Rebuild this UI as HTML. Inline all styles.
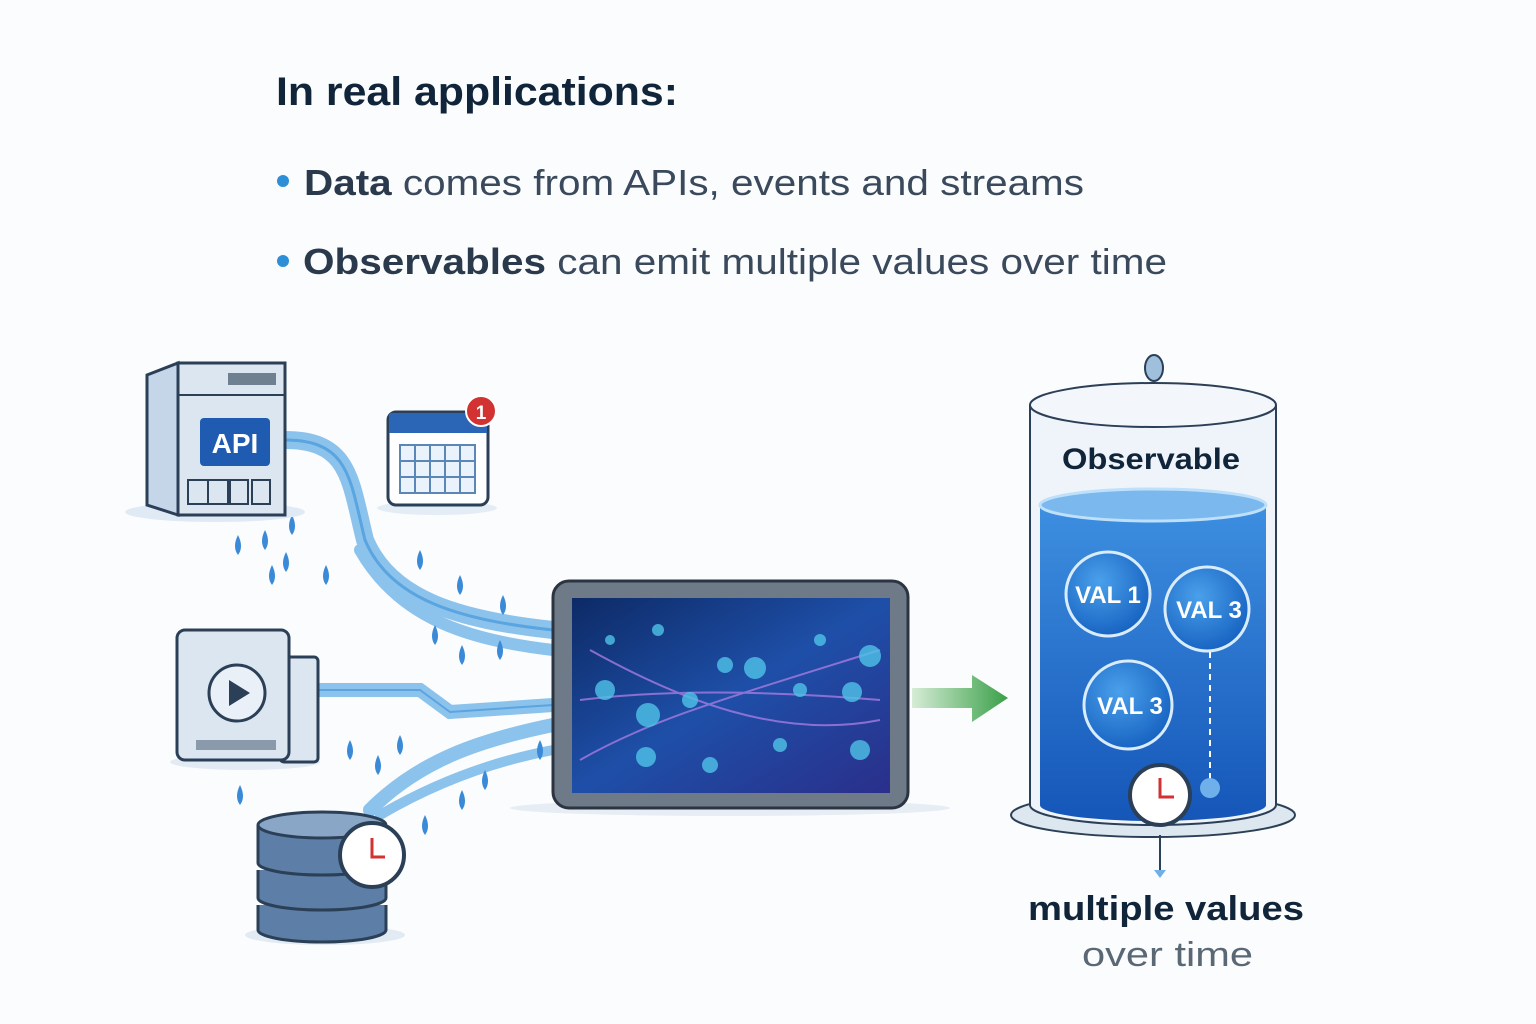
<!DOCTYPE html>
<html><head><meta charset="utf-8"><style>
html,body{margin:0;padding:0;background:#fbfcfd;}
svg{display:block}
</style></head><body>
<svg width="1536" height="1024" viewBox="0 0 1536 1024" xmlns="http://www.w3.org/2000/svg" font-family="'Liberation Sans','DejaVu Sans',sans-serif">
<defs>
<linearGradient id="scr" x1="0" y1="0" x2="1" y2="1"><stop offset="0" stop-color="#0d2a66"/><stop offset="0.5" stop-color="#1e4fa8"/><stop offset="1" stop-color="#2a2f8a"/></linearGradient>
<linearGradient id="wat" x1="0" y1="0" x2="0" y2="1"><stop offset="0" stop-color="#3d8fe0"/><stop offset="1" stop-color="#1556b8"/></linearGradient>
<linearGradient id="arr" x1="0" y1="0" x2="1" y2="0"><stop offset="0" stop-color="#d6ecd6"/><stop offset="1" stop-color="#3aa048"/></linearGradient>
<radialGradient id="bub" cx="0.4" cy="0.35" r="0.7"><stop offset="0" stop-color="#4aa0ea"/><stop offset="1" stop-color="#1560c0"/></radialGradient>
</defs>
<rect width="1536" height="1024" fill="#fbfcfd"/>
<text x="276" y="105" font-size="40" font-weight="bold" fill="#10243a" textLength="402" lengthAdjust="spacingAndGlyphs">In real applications:</text>
<circle cx="283" cy="181" r="6" fill="#2f8fd6"/>
<text x="304" y="195" font-size="36" fill="#3a4a5c" textLength="780" lengthAdjust="spacingAndGlyphs"><tspan font-weight="bold" fill="#2a3a4c">Data</tspan> comes from APIs, events and streams</text>
<circle cx="283" cy="261" r="6" fill="#2f8fd6"/>
<text x="303" y="274" font-size="36" fill="#3a4a5c" textLength="864" lengthAdjust="spacingAndGlyphs"><tspan font-weight="bold" fill="#2a3a4c">Observables</tspan> can emit multiple values over time</text>

<!-- streams -->
<g fill="none" stroke-linecap="round">
<path d="M285 440 C350 440 350 480 365 540 C390 600 460 620 553 630" stroke="#8cc3ec" stroke-width="18"/>
<path d="M285 440 C350 440 350 480 365 540 C390 600 460 620 553 630" stroke="#5aa4e0" stroke-width="3"/>
<path d="M360 550 C400 620 470 640 553 650" stroke="#8cc3ec" stroke-width="12"/>
<path d="M318 690 L420 690 L450 712 L553 705" stroke="#8cc3ec" stroke-width="14"/>
<path d="M318 690 L420 690 L450 712 L553 705" stroke="#5aa4e0" stroke-width="2"/>
<path d="M370 810 C420 760 480 740 553 725" stroke="#8cc3ec" stroke-width="14"/>
<path d="M380 815 C440 780 500 760 553 750" stroke="#8cc3ec" stroke-width="10"/>
</g>
<g fill="#3a8ad8">
<path d="M238 535 q-6 12 0 20 q6 -8 0 -20z"/><path d="M265 530 q-6 12 0 20 q6 -8 0 -20z"/><path d="M292 515 q-6 12 0 20 q6 -8 0 -20z"/>
<path d="M272 565 q-6 12 0 20 q6 -8 0 -20z"/><path d="M286 552 q-6 12 0 20 q6 -8 0 -20z"/><path d="M326 565 q-6 12 0 20 q6 -8 0 -20z"/>
<path d="M420 550 q-6 12 0 20 q6 -8 0 -20z"/><path d="M460 575 q-6 12 0 20 q6 -8 0 -20z"/><path d="M503 595 q-6 12 0 20 q6 -8 0 -20z"/>
<path d="M435 625 q-6 12 0 20 q6 -8 0 -20z"/><path d="M462 645 q-6 12 0 20 q6 -8 0 -20z"/><path d="M500 640 q-6 12 0 20 q6 -8 0 -20z"/>
<path d="M350 740 q-6 12 0 20 q6 -8 0 -20z"/><path d="M378 755 q-6 12 0 20 q6 -8 0 -20z"/><path d="M400 735 q-6 12 0 20 q6 -8 0 -20z"/>
<path d="M240 785 q-6 12 0 20 q6 -8 0 -20z"/><path d="M425 815 q-6 12 0 20 q6 -8 0 -20z"/><path d="M462 790 q-6 12 0 20 q6 -8 0 -20z"/>
<path d="M540 740 q-6 12 0 20 q6 -8 0 -20z"/><path d="M485 770 q-6 12 0 20 q6 -8 0 -20z"/>
</g>

<!-- API server -->
<ellipse cx="215" cy="512" rx="90" ry="10" fill="#dfeaf4"/>
<path d="M147 375 L178 363 L178 515 L147 505Z" fill="#c5d6e8" stroke="#2b3f57" stroke-width="3"/>
<rect x="178" y="363" width="107" height="152" fill="#dbe6f1" stroke="#2b3f57" stroke-width="3"/>
<line x1="178" y1="395" x2="285" y2="395" stroke="#2b3f57" stroke-width="2"/>
<rect x="200" y="418" width="70" height="48" rx="4" fill="#1f5bb0"/>
<text x="235" y="453" font-size="28" font-weight="bold" fill="#fff" text-anchor="middle">API</text>
<g fill="none" stroke="#2b3f57" stroke-width="2"><rect x="188" y="480" width="20" height="24"/><rect x="208" y="480" width="20" height="24"/><rect x="230" y="480" width="18" height="24"/><rect x="252" y="480" width="18" height="24"/></g>
<rect x="228" y="373" width="48" height="12" fill="#6f8090"/>

<!-- calendar -->
<ellipse cx="437" cy="508" rx="60" ry="7" fill="#e4edf5"/>
<rect x="388" y="412" width="100" height="93" rx="8" fill="#fff" stroke="#2b3f57" stroke-width="3"/>
<rect x="389" y="413" width="98" height="20" fill="#2a66b5"/>
<g fill="#eaf2fb" stroke="#5a86b8" stroke-width="2"><rect x="400" y="445" width="75" height="48"/></g>
<g stroke="#5a86b8" stroke-width="2"><line x1="415" y1="445" x2="415" y2="493"/><line x1="430" y1="445" x2="430" y2="493"/><line x1="445" y1="445" x2="445" y2="493"/><line x1="460" y1="445" x2="460" y2="493"/><line x1="400" y1="461" x2="475" y2="461"/><line x1="400" y1="477" x2="475" y2="477"/></g>
<circle cx="481" cy="411" r="15" fill="#d23232" stroke="#fff" stroke-width="2"/>
<text x="481" y="419" font-size="19" font-weight="bold" fill="#fff" text-anchor="middle">1</text>

<!-- video -->
<ellipse cx="245" cy="762" rx="75" ry="8" fill="#e2ebf4"/>
<rect x="280" y="657" width="38" height="105" rx="4" fill="#dbe6f1" stroke="#2b3f57" stroke-width="3"/>
<rect x="177" y="630" width="112" height="130" rx="8" fill="#dbe6f1" stroke="#2b3f57" stroke-width="3"/>
<circle cx="237" cy="693" r="28" fill="#e9f0f7" stroke="#2b3f57" stroke-width="3"/>
<path d="M229 680 L250 693 L229 706Z" fill="#2b3f57"/>
<rect x="196" y="740" width="80" height="10" fill="#8a9aab"/>

<!-- DB -->
<ellipse cx="325" cy="935" rx="80" ry="10" fill="#e2ebf4"/>
<g stroke="#2b3f57" stroke-width="3" fill="#5d7ea6">
<path d="M258 905 v25 a64 12 0 0 0 128 0 v-25"/>
<path d="M258 870 v28 a64 12 0 0 0 128 0 v-28"/>
<path d="M258 825 v38 a64 12 0 0 0 128 0 v-38"/>
<ellipse cx="322" cy="825" rx="64" ry="13" fill="#8aa6c6"/>
</g>
<circle cx="372" cy="855" r="32" fill="#fff" stroke="#2b3f57" stroke-width="4"/>
<path d="M372 838 V857 H385" stroke="#d23232" stroke-width="3" fill="none"/>

<!-- screen -->
<ellipse cx="730" cy="808" rx="220" ry="8" fill="#e6edf4"/>
<rect x="553" y="581" width="355" height="227" rx="16" fill="#6e7a88" stroke="#2b3440" stroke-width="3"/>
<rect x="572" y="598" width="318" height="195" fill="url(#scr)"/>
<g fill="none" stroke="#a57be0" stroke-width="2" opacity="0.8"><path d="M580 760 C650 720 720 700 880 650"/><path d="M580 700 C660 690 760 690 880 700"/><path d="M590 650 C680 700 780 740 880 720"/></g>
<g fill="#4fc3e8" opacity="0.8"><circle cx="605" cy="690" r="10"/><circle cx="648" cy="715" r="12"/><circle cx="690" cy="700" r="8"/><circle cx="755" cy="668" r="11"/><circle cx="800" cy="690" r="7"/><circle cx="852" cy="692" r="10"/><circle cx="870" cy="656" r="11"/><circle cx="710" cy="765" r="8"/><circle cx="646" cy="757" r="10"/><circle cx="860" cy="750" r="10"/><circle cx="658" cy="630" r="6"/><circle cx="725" cy="665" r="8"/><circle cx="780" cy="745" r="7"/><circle cx="610" cy="640" r="5"/><circle cx="820" cy="640" r="6"/></g>

<!-- arrow -->
<path d="M912 688 H972 V675 L1008 698 L972 722 V708 H912Z" fill="url(#arr)"/>

<!-- cylinder -->
<ellipse cx="1153" cy="815" rx="142" ry="22" fill="#dde7f0" stroke="#2b3f57" stroke-width="2"/>
<path d="M1030 405 V805 A123 20 0 0 0 1276 805 V405" fill="#eef4f9" stroke="#2b3f57" stroke-width="2"/>
<path d="M1040 505 V805 A113 16 0 0 0 1266 805 V505Z" fill="url(#wat)"/>
<ellipse cx="1153" cy="505" rx="113" ry="16" fill="#7ab8ee" stroke="#bfe0fa" stroke-width="3"/>
<ellipse cx="1153" cy="405" rx="123" ry="22" fill="#f3f7fb" stroke="#2b3f57" stroke-width="2"/>
<ellipse cx="1154" cy="368" rx="9" ry="13" fill="#9fbfdc" stroke="#2b3f57" stroke-width="2"/>
<text x="1062" y="469" font-size="30" font-weight="bold" fill="#10243a" textLength="178" lengthAdjust="spacingAndGlyphs">Observable</text>
<g stroke="#d8ecfc" stroke-width="3">
<circle cx="1108" cy="594" r="42" fill="url(#bub)"/>
<circle cx="1207" cy="609" r="42" fill="url(#bub)"/>
<circle cx="1128" cy="705" r="44" fill="url(#bub)"/>
</g>
<g font-size="24" font-weight="bold" fill="#fff" text-anchor="middle">
<text x="1108" y="603">VAL 1</text><text x="1209" y="618">VAL 3</text><text x="1130" y="714">VAL 3</text></g>
<line x1="1210" y1="652" x2="1210" y2="780" stroke="#fff" stroke-width="2" stroke-dasharray="6 5"/>
<circle cx="1210" cy="788" r="10" fill="#6fb0ea"/>
<circle cx="1160" cy="795" r="30" fill="#fff" stroke="#2b3f57" stroke-width="4"/>
<path d="M1160 778 V797 H1174" stroke="#d23232" stroke-width="3" fill="none"/>
<line x1="1160" y1="835" x2="1160" y2="870" stroke="#2b3f57" stroke-width="2"/>
<path d="M1154 870 L1166 870 L1160 878Z" fill="#6fb0ea"/>
<text x="1028" y="920" font-size="34" font-weight="bold" fill="#10243a" textLength="276" lengthAdjust="spacingAndGlyphs">multiple values</text>
<text x="1082" y="966" font-size="34" fill="#5a6775" textLength="171" lengthAdjust="spacingAndGlyphs">over time</text>
</svg>
</body></html>
